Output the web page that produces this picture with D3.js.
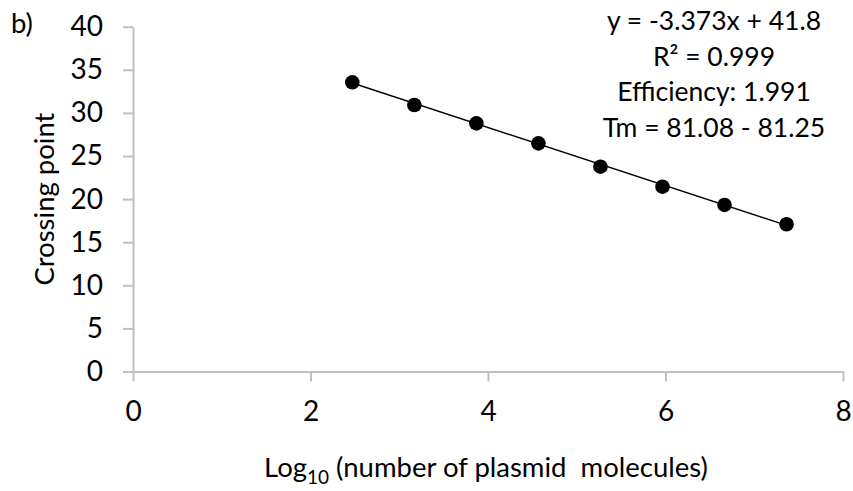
<!DOCTYPE html>
<html>
<head>
<meta charset="utf-8">
<script src="https://cdn.jsdelivr.net/npm/d3@7"></script>
<style>
  html, body { margin: 0; padding: 0; background: #fff; }
  svg { display: block; }
  text { font-family: Lato, "Open Sans", sans-serif; fill: #000; }
</style>
</head>
<body>
<svg id="chart" width="853" height="491"></svg>
<script>
// Standard curve: log10 copies vs crossing point
const logCopies = [2.471, 3.170, 3.869, 4.568, 5.267, 5.966, 6.665, 7.364];
const crossingPoints = [33.55, 30.92, 28.79, 26.47, 23.76, 21.44, 19.32, 17.08];

// Linear fit y = slope * x + intercept
const fitSlope = -3.373;
const fitIntercept = 41.8;

const xTicks = [0, 2, 4, 6, 8];
const yTicks = [0, 5, 10, 15, 20, 25, 30, 35, 40];

const annotationLines = [
  "y = -3.373x + 41.8",
  "R\u00B2 = 0.999",
  "Efficiency: 1.991",
  "Tm = 81.08 - 81.25"
];

const panelLabel = "b)";
const yTitle = "Crossing point";

const W = 853, H = 491;
const margin = { top: 26.7, right: 10, bottom: 119.5, left: 133 };

const svg = d3.select("#chart");

const x = d3.scaleLinear().domain([0, 8]).range([margin.left, W - margin.right]);
const y = d3.scaleLinear().domain([0, 40]).range([H - margin.bottom, margin.top]);

const axisColor = "#c0c0c0";

// Y axis
const yAxis = svg.append("g")
  .attr("transform", `translate(${margin.left},0)`)
  .call(d3.axisLeft(y).tickValues(yTicks).tickSize(10).tickSizeOuter(0).tickPadding(20));

// X axis
const xAxis = svg.append("g")
  .attr("transform", `translate(0,${y(0)})`)
  .call(d3.axisBottom(x).tickValues(xTicks).tickSize(10).tickSizeOuter(0).tickPadding(20));

[yAxis, xAxis].forEach(g => {
  g.select(".domain").attr("stroke", axisColor).attr("stroke-width", 2);
  g.selectAll(".tick line").attr("stroke", axisColor).attr("stroke-width", 2);
  g.selectAll(".tick text")
    .style("font-family", "Lato, 'Open Sans', sans-serif")
    .style("font-size", "28px")
    .attr("fill", "#000");
});

// Trendline across the data range
const xMin = d3.min(logCopies), xMax = d3.max(logCopies);
svg.append("line")
  .attr("x1", x(xMin)).attr("y1", y(fitSlope * xMin + fitIntercept))
  .attr("x2", x(xMax)).attr("y2", y(fitSlope * xMax + fitIntercept))
  .attr("stroke", "#000")
  .attr("stroke-width", 1.4);

// Data points
svg.append("g")
  .selectAll("circle")
  .data(logCopies.map((v, i) => [v, crossingPoints[i]]))
  .join("circle")
  .attr("cx", d => x(d[0]))
  .attr("cy", d => y(d[1]))
  .attr("r", 7.3)
  .attr("fill", "#000");

// Fit annotation
const ann = svg.append("text")
  .attr("text-anchor", "middle")
  .style("font-size", "26.5px");
annotationLines.forEach((line, i) => {
  ann.append("tspan")
    .attr("x", 714)
    .attr("y", 30 + i * 35.5)
    .text(line);
});

// Panel label
svg.append("text")
  .attr("x", 11)
  .attr("y", 33)
  .style("font-size", "27.5px")
  .text(panelLabel);

// Y axis title
svg.append("text")
  .attr("transform", `translate(54,${(y(0) + y(40)) / 2}) rotate(-90)`)
  .attr("text-anchor", "middle")
  .style("font-size", "27.5px")
  .text(yTitle);

// X axis title with subscript
const xt = svg.append("text")
  .attr("x", (266 + 706) / 2)
  .attr("y", 476.7)
  .attr("text-anchor", "middle")
  .style("font-size", "27.5px");
xt.append("tspan").text("Log");
xt.append("tspan").attr("dy", 7).style("font-size", "19px").text("10");
xt.append("tspan").attr("dy", -7).text(" (number of plasmid\u00A0 molecules)");
</script>
</body>
</html>
